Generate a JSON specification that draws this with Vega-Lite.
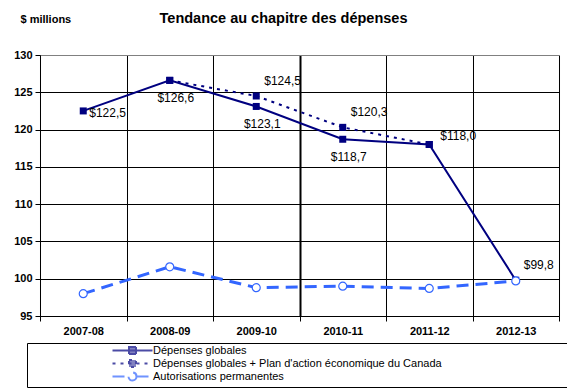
{
  "$schema": "https://vega.github.io/schema/vega-lite/v6.json",
  "width": 519,
  "height": 261,
  "autosize": {"type": "none"},
  "padding": {"left": 40, "top": 55, "right": 8, "bottom": 76},
  "background": "white",
  "title": {"text": "Tendance au chapitre des dépenses", "fontSize": 14.5, "fontWeight": "bold", "font": "Liberation Sans", "color": "black", "anchor": "middle", "dx": -16, "offset": -27, "baseline": "bottom"},
  "datasets": {
    "main": [
      {"year": "2007-08", "series": "Dépenses globales", "value": 122.5},
      {"year": "2008-09", "series": "Dépenses globales", "value": 126.6},
      {"year": "2009-10", "series": "Dépenses globales", "value": 123.1},
      {"year": "2010-11", "series": "Dépenses globales", "value": 118.7},
      {"year": "2011-12", "series": "Dépenses globales", "value": 118.0},
      {"year": "2012-13", "series": "Dépenses globales", "value": 99.8},
      {"year": "2008-09", "series": "Dépenses globales + Plan d'action économique du Canada", "value": 126.6},
      {"year": "2009-10", "series": "Dépenses globales + Plan d'action économique du Canada", "value": 124.5},
      {"year": "2010-11", "series": "Dépenses globales + Plan d'action économique du Canada", "value": 120.3},
      {"year": "2011-12", "series": "Dépenses globales + Plan d'action économique du Canada", "value": 118.0},
      {"year": "2007-08", "series": "Autorisations permanentes", "value": 98.0},
      {"year": "2008-09", "series": "Autorisations permanentes", "value": 101.6},
      {"year": "2009-10", "series": "Autorisations permanentes", "value": 98.8},
      {"year": "2010-11", "series": "Autorisations permanentes", "value": 99.0},
      {"year": "2011-12", "series": "Autorisations permanentes", "value": 98.7},
      {"year": "2012-13", "series": "Autorisations permanentes", "value": 99.7}
    ],
    "labels": [
      {"year": "2007-08", "value": 122.5, "label": "$122,5", "pos": "right"},
      {"year": "2008-09", "value": 126.6, "label": "$126,6", "pos": "below"},
      {"year": "2009-10", "value": 123.1, "label": "$123,1", "pos": "below"},
      {"year": "2009-10", "value": 124.5, "label": "$124,5", "pos": "above"},
      {"year": "2010-11", "value": 120.3, "label": "$120,3", "pos": "above"},
      {"year": "2010-11", "value": 118.7, "label": "$118,7", "pos": "below"},
      {"year": "2011-12", "value": 118.0, "label": "$118,0", "pos": "upright"},
      {"year": "2012-13", "value": 99.8, "label": "$99,8", "pos": "above"}
    ]
  },
  "config": {
    "font": "Liberation Sans",
    "view": {"stroke": null},
    "axis": {"domainColor": "black", "tickColor": "black", "gridColor": "black", "labelColor": "black", "labelFont": "Liberation Sans", "labelFontSize": 11, "labelFontWeight": "bold", "tickSize": 5, "titleColor": "black", "gridOpacity": 1},
    "legend": {
      "orient": "none", "legendX": -13, "legendY": 288, "direction": "vertical", "strokeColor": "black", "padding": 2,
      "labelFont": "Liberation Sans", "labelFontSize": 11, "labelColor": "black", "rowPadding": -4, "labelLimit": 500,
      "symbolStrokeWidth": 2, "symbolSize": 64, "symbolOffset": 98, "labelOffset": 15,
      "titleOrient": "right", "titlePadding": 150, "titleFontSize": 4
    }
  },
  "encoding": {
    "x": {"field": "year", "type": "ordinal", "title": null,
      "scale": {"domain": ["2007-08", "2008-09", "2009-10", "2010-11", "2011-12", "2012-13"], "paddingInner": 0, "paddingOuter": 0},
      "axis": {"labelAngle": 0, "tickBand": "extent", "grid": true, "ticks": true, "domain": true, "labelPadding": 4, "gridColor": "black", "gridOpacity": 1,
        "gridWidth": {"condition": {"test": "datum.value === '2009-10'", "value": 2}, "value": 1.01}}},
    "y": {"field": "value", "type": "quantitative", "title": "$ millions",
      "scale": {"domain": [95, 130], "nice": false, "zero": false},
      "axis": {"values": [95, 100, 105, 110, 115, 120, 125, 130], "grid": true, "labelPadding": 3,
        "gridColor": {"condition": {"test": "datum.value == 130", "value": "#808080"}, "value": "black"},
        "titleAngle": 0, "titleAlign": "left", "titleBaseline": "alphabetic", "titleX": -20, "titleY": -33, "titleFontSize": 11, "titleFontWeight": "bold"}}
  },
  "layer": [
    {
      "data": {"name": "main"},
      "transform": [{"filter": "datum.series === 'Dépenses globales'"}],
      "mark": {"type": "line", "strokeWidth": 2, "color": "#000080"}
    },
    {
      "data": {"name": "main"},
      "transform": [{"filter": "datum.series === \"Dépenses globales + Plan d'action économique du Canada\""}],
      "mark": {"type": "line", "strokeWidth": 2, "color": "#000080", "strokeDash": [3, 5]}
    },
    {
      "data": {"name": "main"},
      "transform": [{"filter": "datum.series === 'Autorisations permanentes'"}],
      "mark": {"type": "line", "strokeWidth": 3, "color": "#3366ff", "strokeDash": [12, 7]}
    },
    {
      "data": {"name": "main"},
      "transform": [{"filter": "datum.series !== 'Autorisations permanentes'"}],
      "mark": {"type": "point", "shape": "square", "filled": true, "size": 49, "opacity": 1, "color": "#000080"}
    },
    {
      "data": {"name": "main"},
      "transform": [{"filter": "datum.series === 'Autorisations permanentes'"}],
      "mark": {"type": "point", "shape": "circle", "filled": false, "fill": "white", "stroke": "#3366ff", "strokeWidth": 1.2, "size": 64, "opacity": 1}
    },
    {
      "data": {"name": "labels"},
      "transform": [{"filter": "datum.pos === 'below'"}],
      "mark": {"type": "text", "align": "center", "baseline": "middle", "dx": 6, "dy": 18, "fontSize": 12, "color": "black"},
      "encoding": {"text": {"field": "label"}}
    },
    {
      "data": {"name": "labels"},
      "transform": [{"filter": "datum.pos === 'above'"}],
      "mark": {"type": "text", "align": "left", "baseline": "middle", "dx": 8, "dy": -15, "fontSize": 12, "color": "black"},
      "encoding": {"text": {"field": "label"}}
    },
    {
      "data": {"name": "labels"},
      "transform": [{"filter": "datum.pos === 'right'"}],
      "mark": {"type": "text", "align": "left", "baseline": "middle", "dx": 6, "dy": 2, "fontSize": 12, "color": "black"},
      "encoding": {"text": {"field": "label"}}
    },
    {
      "data": {"name": "labels"},
      "transform": [{"filter": "datum.pos === 'upright'"}],
      "mark": {"type": "text", "align": "left", "baseline": "middle", "dx": 11, "dy": -8, "fontSize": 12, "color": "black"},
      "encoding": {"text": {"field": "label"}}
    },
    {
      "data": {"name": "main"},
      "transform": [{"filter": "false"}],
      "mark": {"type": "point", "filled": false, "size": 64, "strokeWidth": 2},
      "encoding": {
        "stroke": {"field": "series", "type": "nominal", "title": "\u00a0",
          "scale": {"domain": ["Dépenses globales", "Dépenses globales + Plan d'action économique du Canada", "Autorisations permanentes"], "range": ["#000080", "#000080", "#3366ff"]}},
        "strokeDash": {"field": "series", "type": "nominal", "title": "\u00a0",
          "scale": {"domain": ["Dépenses globales", "Dépenses globales + Plan d'action économique du Canada", "Autorisations permanentes"], "range": [[1, 0], [3, 5], [12, 7]]}},
        "fill": {"field": "series", "type": "nominal", "title": "\u00a0",
          "scale": {"domain": ["Dépenses globales", "Dépenses globales + Plan d'action économique du Canada", "Autorisations permanentes"], "range": ["#000080", "#000080", "white"]}},
        "shape": {"field": "series", "type": "nominal", "title": "\u00a0",
          "scale": {"domain": ["Dépenses globales", "Dépenses globales + Plan d'action économique du Canada", "Autorisations permanentes"],
            "range": ["M-5,0H5M-0.875,-0.875H0.875V0.875H-0.875Z", "M-5,0H5M-0.875,-0.875H0.875V0.875H-0.875Z", "M-5,0H-1M1,0H5M1,0A1,1 0 1,1 -1,0A1,1 0 1,1 1,0Z"]}}
      }
    }
  ]
}
